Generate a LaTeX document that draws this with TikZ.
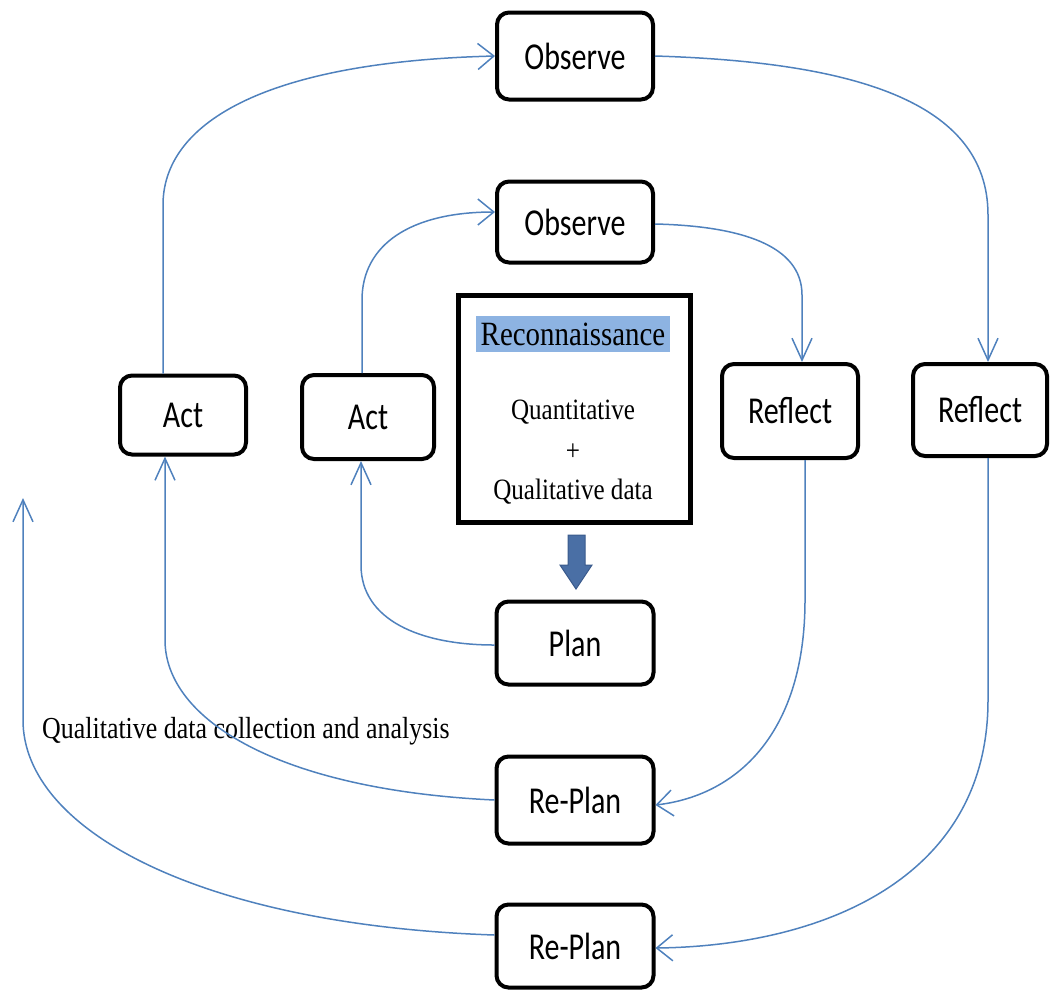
\documentclass[tikz,border=0pt]{standalone}
\usepackage{fontspec}
\setmainfont{Liberation Serif}
\newfontfamily\boxfont[FakeStretch=0.79]{Carlito}
\newfontfamily\serfont[FakeStretch=0.85]{Liberation Serif}
\usetikzlibrary{arrows.meta}
\definecolor{linkblue}{HTML}{4F81BD}
\definecolor{markblue}{HTML}{8DB3E2}
\definecolor{fatarrow}{HTML}{4A6FA5}
\definecolor{fatedge}{HTML}{3A5A8C}
\tikzset{
  vbarb/.tip={Straight Barb[length=22pt,width=20pt]},
  hbarb/.tip={Straight Barb[length=16pt,width=26pt]},
  stage/.style={draw=black, line width=4pt, rounded corners=12pt, fill=white,
    font=\boxfont\fontsize{38}{40}\selectfont, inner sep=0pt},
  link/.style={draw=linkblue, line width=1.5pt},
  serif/.style={font=\serfont\fontsize{29.5}{32}\selectfont, inner sep=0pt}
}
\begin{document}
\begin{tikzpicture}[x=1pt,y=-1pt]
\useasboundingbox (0,0) rectangle (1051,989);

% action research cycle stages
\node[stage, minimum width=156pt, minimum height=87pt] (obsT)  at (575,56)  {Observe};
\node[stage, minimum width=156pt, minimum height=81pt] (obsI)  at (575,222) {Observe};
\node[stage, minimum width=126pt, minimum height=79pt] (actL)  at (183,415) {Act};
\node[stage, minimum width=132pt, minimum height=84pt] (actR)  at (368,417) {Act};
\node[stage, minimum width=136pt, minimum height=94pt] (reflI) at (790,411) {Reflect};
\node[stage, minimum width=134pt, minimum height=92pt] (reflR) at (980,410) {Reflect};
\node[stage, minimum width=157pt, minimum height=83pt] (plan)  at (575,643) {Plan};
\node[stage, minimum width=157pt, minimum height=87pt] (rpI)   at (575,800) {Re-Plan};
\node[stage, minimum width=157pt, minimum height=83pt] (rpO)   at (575,946) {Re-Plan};

% reconnaissance box
\node[draw=black, line width=5pt, minimum width=232pt, minimum height=227pt, inner sep=0pt] (recon) at (574,408.5) {};
\node[serif, fill=markblue, minimum width=194pt, minimum height=36pt, font=\serfont\fontsize{34}{36}\selectfont] (reconT) at (573,334) {Reconnaissance};
\node[serif] (quant) at (573,412) {Quantitative};
\node[serif] (plus)  at (573,452) {+};
\node[serif] (qual)  at (573,492) {Qualitative data};

% block arrow from reconnaissance to plan
\filldraw[fill=fatarrow, draw=fatedge, line width=1pt]
  (568,535) -- (585,535) -- (585,565) -- (592,565) -- (576,589) -- (560,565) -- (568,565) -- cycle;

% side label
\node[serif, anchor=west, font=\serfont\fontsize{30.5}{32}\selectfont] (qlabel) at (42,731) {Qualitative data collection and analysis};
\coordinate (qend) at (23,498);

% cycle connectors
\draw[link,-hbarb] ([xshift=-20pt]actL.north) -- (163,205) .. controls (163,125) and (260,62) .. (obsT.west);
\draw[link,-vbarb] (obsT.east) .. controls (850,62) and (988,100) .. (988,215) -- ([xshift=8pt]reflR.north);
\draw[link,-hbarb] ([xshift=-6pt]actR.north) -- (362,300) .. controls (362,245) and (410,212) .. ([yshift=10pt]obsI.west);
\draw[link,-vbarb] ([yshift=-2pt]obsI.east) .. controls (740,226) and (802,245) .. (802,295) -- ([xshift=12pt]reflI.north);
\draw[link,-hbarb] ([xshift=15pt]reflI.south) -- (805,600) .. controls (805,730) and (740,795) .. ([yshift=-5pt]rpI.east);
\draw[link,-hbarb] ([xshift=8pt]reflR.south) -- (988,700) .. controls (988,880) and (820,946) .. ([yshift=-2pt]rpO.east);
\draw[link,-vbarb] ([yshift=-2pt]plan.west) .. controls (420,645) and (361,620) .. (361,565) -- ([xshift=-7pt]actR.south);
\draw[link,-vbarb] (rpI.west) .. controls (280,790) and (165,720) .. (165,640) -- ([xshift=-18pt]actL.south);
\draw[link,-vbarb] ([yshift=11pt]rpO.west) .. controls (200,925) and (23,830) .. (23,720) -- (qend);
\end{tikzpicture}
\end{document}
